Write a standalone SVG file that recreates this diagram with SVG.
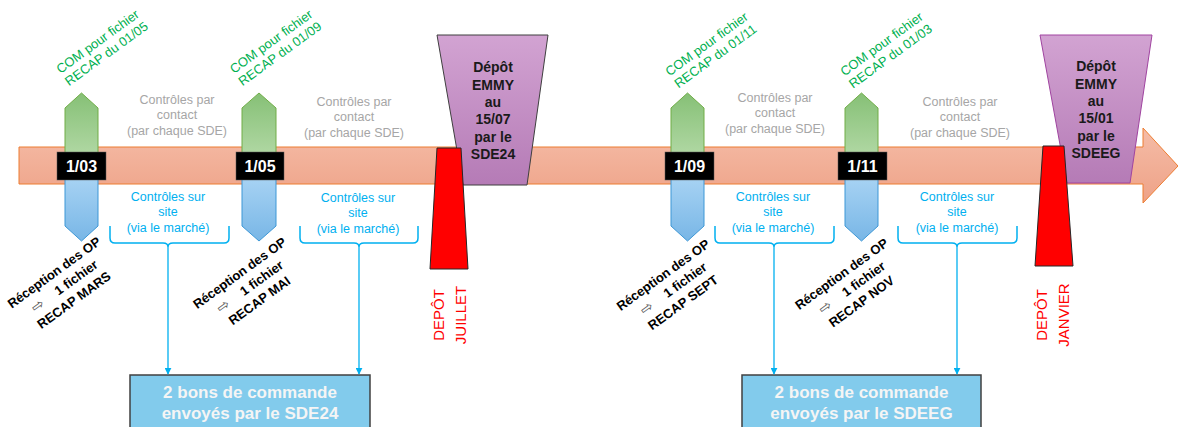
<svg xmlns="http://www.w3.org/2000/svg" width="1178" height="427" viewBox="0 0 1178 427">
<defs>
<linearGradient id="gBar" x1="0" y1="0" x2="0" y2="1"><stop offset="0" stop-color="#f5bca7"/><stop offset="1" stop-color="#eea287"/></linearGradient>
<linearGradient id="gGreen" x1="0" y1="0" x2="0" y2="1"><stop offset="0" stop-color="#86c076"/><stop offset="1" stop-color="#afd7a2"/></linearGradient>
<linearGradient id="gBlue" x1="0" y1="0" x2="0" y2="1"><stop offset="0" stop-color="#a6d2f3"/><stop offset="1" stop-color="#78b6e6"/></linearGradient>
<linearGradient id="gPurple" x1="0" y1="0" x2="0" y2="1"><stop offset="0" stop-color="#d2a3d2"/><stop offset="1" stop-color="#b57bb6"/></linearGradient>
<marker id="arr" viewBox="0 0 10 10" refX="9" refY="5" markerWidth="7" markerHeight="7" markerUnits="userSpaceOnUse" orient="auto"><path d="M0,0 L10,5 L0,10 Z" fill="#00b0f0"/></marker>
</defs>
<style>
text{font-family:"Liberation Sans",Arial,sans-serif}
.green{fill:url(#gGreen);stroke:#70ad47;stroke-width:1}
.blue{fill:url(#gBlue);stroke:#3d97d6;stroke-width:1}
.date{fill:#000;stroke:#595959;stroke-width:0.5}
.dtxt{fill:#fff;font-weight:bold;font-size:16px;text-anchor:middle}
.com{fill:#00b050;font-size:13px;text-anchor:middle}
.ctc{fill:#a6a6a6;font-size:12.5px;text-anchor:middle}
.site{fill:#00b0f0;font-size:12.5px;text-anchor:middle}
.rec{fill:#000;font-weight:bold;font-size:13px;text-anchor:middle}
.arw{fill:#595959;font-weight:normal;font-size:15px;font-family:"DejaVu Sans",sans-serif}
.purple{fill:url(#gPurple)}
.ptxt{fill:#1a1a1a;font-weight:bold;font-size:14px;text-anchor:middle}
.red{fill:#ff0000;stroke:#262626;stroke-width:1}
.rtxt{fill:#ff0000;font-size:15px;text-anchor:middle}
.box{fill:#82cbec;stroke:#404040;stroke-width:1.5}
.btxt{fill:#f5f5f5;font-weight:bold;font-size:17px;text-anchor:middle}
.br{fill:none;stroke:#00b0f0;stroke-width:1.5}
.ln{fill:none;stroke:#00b0f0;stroke-width:1.3}
</style>

<g id="timeline">
<path d="M19,147 H1143 V128 L1178,166 L1143,203 V184 H19 Z" fill="url(#gBar)" stroke="#ed7d31" stroke-width="1"/>
</g>

<g id="m1">
<path class="green" d="M65,153 V108 L81.5,93 L98,108 V153 Z"/>
<path class="blue" d="M65,179 V226 L81.5,241 L98,226 V179 Z"/>
<rect class="date" x="57" y="152" width="49" height="28"/>
<text class="dtxt" x="81.5" y="171.5">1/03</text>
</g>
<g id="m2">
<path class="green" d="M242,153 V108 L259,93 L276,108 V153 Z"/>
<path class="blue" d="M242,179 V226 L259,241 L276,226 V179 Z"/>
<rect class="date" x="236" y="152" width="48" height="28"/>
<text class="dtxt" x="260" y="171.5">1/05</text>
</g>
<g id="m3">
<path class="green" d="M671,153 V108 L687.5,93 L704,108 V153 Z"/>
<path class="blue" d="M671,179 V226 L687.5,241 L704,226 V179 Z"/>
<rect class="date" x="665" y="152" width="49" height="28"/>
<text class="dtxt" x="689.5" y="171.5">1/09</text>
</g>
<g id="m4">
<path class="green" d="M845,153 V108 L861.5,93 L878,108 V153 Z"/>
<path class="blue" d="M845,179 V226 L861.5,241 L878,226 V179 Z"/>
<rect class="date" x="838" y="152" width="49" height="28"/>
<text class="dtxt" x="862.5" y="171.5">1/11</text>
</g>

<g id="com-labels">
<text class="com" transform="translate(102,47.5) rotate(-36)"><tspan x="0" y="-3">COM pour fichier</tspan><tspan x="0" y="12">RECAP du 01/05</tspan></text>
<text class="com" transform="translate(275.5,47.5) rotate(-36)"><tspan x="0" y="-3">COM pour fichier</tspan><tspan x="0" y="12">RECAP du 01/09</tspan></text>
<text class="com" transform="translate(711,50) rotate(-36)"><tspan x="0" y="-3">COM pour fichier</tspan><tspan x="0" y="12">RECAP du 01/11</tspan></text>
<text class="com" transform="translate(886,50) rotate(-36)"><tspan x="0" y="-3">COM pour fichier</tspan><tspan x="0" y="12">RECAP du 01/03</tspan></text>
</g>

<g id="contact-labels">
<text class="ctc"><tspan x="177" y="103.5">Contrôles par</tspan><tspan x="177" y="119">contact</tspan><tspan x="177" y="134.5">(par chaque SDE)</tspan></text>
<text class="ctc"><tspan x="354" y="105.5">Contrôles par</tspan><tspan x="354" y="121">contact</tspan><tspan x="354" y="136.5">(par chaque SDE)</tspan></text>
<text class="ctc"><tspan x="775" y="101.5">Contrôles par</tspan><tspan x="775" y="117">contact</tspan><tspan x="775" y="132.5">(par chaque SDE)</tspan></text>
<text class="ctc"><tspan x="960" y="105.5">Contrôles par</tspan><tspan x="960" y="121">contact</tspan><tspan x="960" y="136.5">(par chaque SDE)</tspan></text>
</g>

<g id="site-labels">
<text class="site"><tspan x="168" y="200.5">Contrôles sur</tspan><tspan x="168" y="216">site</tspan><tspan x="168" y="232">(via le marché)</tspan></text>
<text class="site"><tspan x="358" y="201.5">Contrôles sur</tspan><tspan x="358" y="217">site</tspan><tspan x="358" y="233">(via le marché)</tspan></text>
<text class="site"><tspan x="773" y="200.5">Contrôles sur</tspan><tspan x="773" y="216">site</tspan><tspan x="773" y="232">(via le marché)</tspan></text>
<text class="site"><tspan x="957" y="200.5">Contrôles sur</tspan><tspan x="957" y="216">site</tspan><tspan x="957" y="232">(via le marché)</tspan></text>
</g>

<g id="reception-labels">
<text class="rec" transform="translate(54,272.5) rotate(-36)"><tspan x="0" y="4.5">Réception des OP</tspan><tspan class="arw" x="-39" y="22" text-anchor="start">⇨</tspan><tspan x="-10" y="21.5" text-anchor="start">1 fichier</tspan><tspan x="0" y="38.5">RECAP MARS</tspan></text>
<text class="rec" transform="translate(239.5,273) rotate(-36)"><tspan x="0" y="4.5">Réception des OP</tspan><tspan class="arw" x="-39" y="22" text-anchor="start">⇨</tspan><tspan x="-10" y="21.5" text-anchor="start">1 fichier</tspan><tspan x="0" y="38.5">RECAP MAI</tspan></text>
<text class="rec" transform="translate(663,275) rotate(-36)"><tspan x="0" y="4.5">Réception des OP</tspan><tspan class="arw" x="-39" y="22" text-anchor="start">⇨</tspan><tspan x="-10" y="21.5" text-anchor="start">1 fichier</tspan><tspan x="0" y="38.5">RECAP SEPT</tspan></text>
<text class="rec" transform="translate(841.5,274) rotate(-36)"><tspan x="0" y="4.5">Réception des OP</tspan><tspan class="arw" x="-39" y="22" text-anchor="start">⇨</tspan><tspan x="-10" y="21.5" text-anchor="start">1 fichier</tspan><tspan x="0" y="38.5">RECAP NOV</tspan></text>
</g>

<g id="depot-emmy-1">
<path class="purple" d="M437,35 H548 L527,185 H463 Z" stroke="#3f3f3f" stroke-width="1"/>
<text class="ptxt"><tspan x="493" y="72">Dépôt</tspan><tspan x="493" y="90">EMMY</tspan><tspan x="493" y="107">au</tspan><tspan x="493" y="124">15/07</tspan><tspan x="493" y="142">par le</tspan><tspan x="493" y="159">SDE24</tspan></text>
</g>
<g id="depot-juillet">
<path class="red" d="M437,148 H461 L468,269 H430 Z"/>
<text class="rtxt" transform="translate(449,315) rotate(-90)"><tspan x="0" y="-5">DEPÔT</tspan><tspan x="0" y="17">JUILLET</tspan></text>
</g>

<g id="depot-emmy-2">
<path class="purple" d="M1040,35 H1152 L1130,183 H1067 Z" stroke="#a044a0" stroke-width="1"/>
<text class="ptxt"><tspan x="1096" y="71">Dépôt</tspan><tspan x="1096" y="89">EMMY</tspan><tspan x="1096" y="106">au</tspan><tspan x="1096" y="123">15/01</tspan><tspan x="1096" y="141">par le</tspan><tspan x="1096" y="158">SDEEG</tspan></text>
</g>
<g id="depot-janvier">
<path class="red" d="M1043,146 H1064 L1073,266 H1035 Z"/>
<text class="rtxt" transform="translate(1052,315) rotate(-90)"><tspan x="0" y="-5">DEPÔT</tspan><tspan x="0" y="17">JANVIER</tspan></text>
</g>

<g id="bon-commande-1">
<rect class="box" x="130" y="375" width="240" height="70"/>
<text class="btxt"><tspan x="250" y="398">2 bons de commande</tspan><tspan x="250" y="419">envoyés par le SDE24</tspan></text>
</g>
<g id="bon-commande-2">
<rect class="box" x="742" y="375" width="239" height="70"/>
<text class="btxt"><tspan x="861.5" y="398">2 bons de commande</tspan><tspan x="861.5" y="419">envoyés par le SDEEG</tspan></text>
</g>

<g id="connectors">
<path class="br" d="M110,226 V238 Q110,243 115,243 H163 Q168,243 168,247 Q168,243 173,243 H224 Q229,243 229,238 V226"/>
<path class="ln" d="M168,247 V374" marker-end="url(#arr)"/>
<path class="br" d="M300,226 V238 Q300,243 305,243 H354 Q359,243 359,247 Q359,243 364,243 H413 Q418,243 418,238 V226"/>
<path class="ln" d="M359,247 V374" marker-end="url(#arr)"/>
<path class="br" d="M715,226 V238 Q715,243 720,243 H769 Q774,243 774,247 Q774,243 779,243 H829 Q834,243 834,238 V226"/>
<path class="ln" d="M774,247 V374" marker-end="url(#arr)"/>
<path class="br" d="M898,226 V238 Q898,243 903,243 H952 Q957,243 957,247 Q957,243 962,243 H1012 Q1017,243 1017,238 V226"/>
<path class="ln" d="M957,247 V374" marker-end="url(#arr)"/>
</g>
</svg>
